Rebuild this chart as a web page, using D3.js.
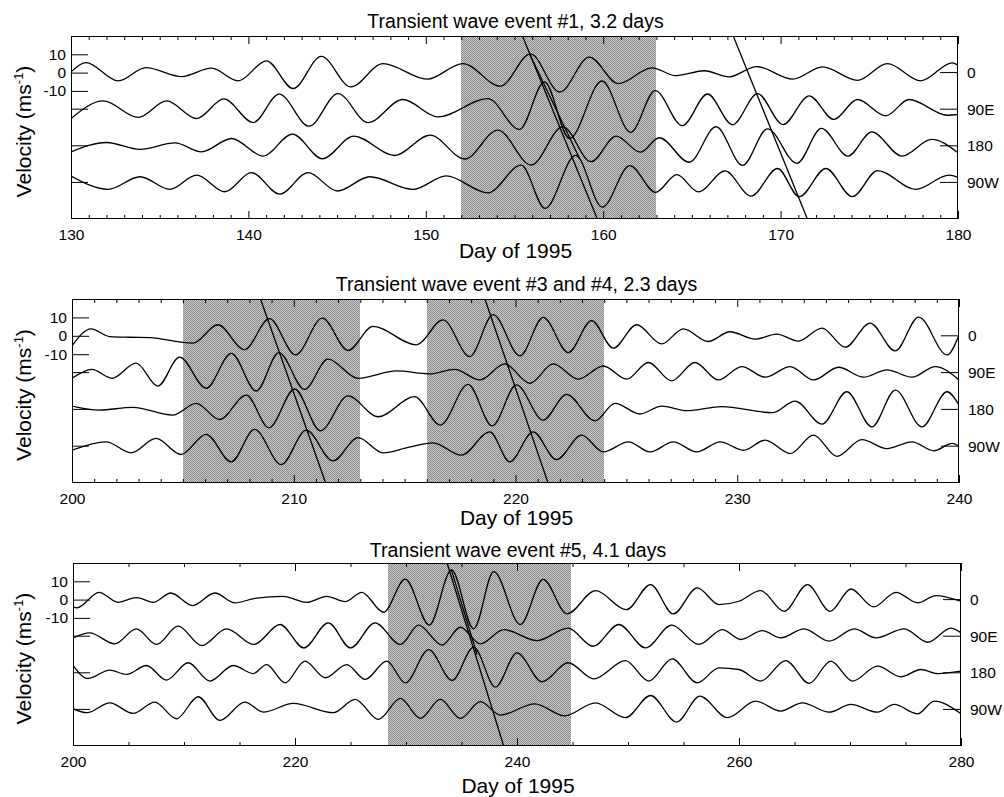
<!DOCTYPE html>
<html><head><meta charset="utf-8">
<script src="https://cdn.jsdelivr.net/npm/d3@7"></script>
<style>
html,body{margin:0;padding:0;background:#fff;}
svg{display:block;font-family:"Liberation Sans",Arial,Helvetica,sans-serif;}
</style></head><body>
<svg id="c" width="1004" height="797"></svg>
<script>
// ---------- data ----------
const traceLabels = ["0", "90E", "180", "90W"];
const traceOffsets = [0, -20, -40, -60];
const yTickValues = [10, 0, -10];

const titles = ["Transient wave event #1, 3.2 days", "Transient wave event #3 and #4, 2.3 days", "Transient wave event #5, 4.1 days"];
const xLabel = "Day of 1995";
const xDomains = [[130, 180], [200, 240], [200, 280]];
const majorTicks = [[130, 140, 150, 160, 170, 180], [200, 210, 220, 230, 240], [200, 220, 240, 260, 280]];
const minorStep = [1, 1, 5];

const shades1 = [[152, 163]];
const shades2 = [[205, 213], [216, 224]];
const shades3 = [[228.4, 244.9]];

// fit lines: [day0, v0, day1, v1]
const fits1 = [[155.45, 20, 159.67, -80], [155.84, 10.4, 158.66, -46.8], [167.33, 20, 171.51, -80]];
const fits2 = [[208.5, 20, 211.44, -80], [218.62, 20, 221.47, -80]];
const fits3 = [[233.7, 20, 238.8, -80], [234.08, 16.4, 236.4, -30]];

// traces: [day, velocity m/s] (extrema)
const p1_0 = [[130,0.4],[130.84,5.5],[132.67,-4.5],[134.22,2.7],[136.23,-2.2],[137.92,2.4],[139.42,-4.5],[141.02,6.4],[142.52,-8.7],[144.11,8.9],[145.77,-7.8],[147.59,4.9],[150.08,-3.6],[152.09,4.9],[154.2,-7.4],[155.9,10.2],[157.55,-10.6],[159.22,8.5],[160.85,-6.0],[162.75,2.6],[164.1,-1.7],[165.7,1.0],[167.1,-2.3],[168.65,3.3],[170.68,-3.6],[172.37,3.1],[174.33,-4.2],[176.02,4.9],[177.9,-4.5],[179.68,5.3],[180,4.0]];
const p1_90E = [[130,-5.1],[131.82,4.5],[133.79,-4.5],[135.39,4.5],[137.08,-5.1],[138.62,5.6],[140.27,-7.3],[141.73,8.2],[143.42,-9.3],[145.05,8.5],[146.74,-7.3],[148.71,5.3],[150.68,-4.2],[153.5,5.8],[155.28,-11.1],[156.69,14.9],[158.1,-16],[159.93,15.4],[161.55,-12.6],[162.93,10.2],[164.46,-9],[165.88,8.3],[167.29,-8.5],[168.7,8.5],[170.14,-8.4],[171.61,7.3],[173.0,-5.6],[174.33,5.3],[175.93,-3.6],[177.24,5.3],[179.4,-3.3],[180,-2.9]];
const p1_180 = [[130,-3.3],[132.0,1.8],[133.89,-2.0],[135.86,1.6],[137.36,-3.3],[139.05,4.0],[140.83,-5.6],[142.48,6.4],[144.17,-7.1],[145.93,5.3],[148.24,-5.3],[150.25,5.8],[152.2,-7.2],[154.06,8.6],[155.94,-10.5],[157.72,10.4],[159.32,-8.7],[160.73,5.3],[162.1,-3.5],[163.16,4.4],[164.85,-9],[166.36,10.4],[167.86,-10.7],[169.26,9.3],[170.92,-9.6],[172.3,9.5],[173.8,-5.6],[175.14,7.6],[176.84,-5.6],[178.52,3.5],[180,-3.8]];
const p1_90W = [[130,3.5],[132.1,-3.8],[133.89,3.1],[135.57,-3.8],[137.08,4.0],[138.67,-5.1],[140.17,5.3],[141.77,-6.4],[143.36,5.3],[145.02,-4.7],[146.84,3.1],[149.28,-3.8],[151.15,3.6],[153.5,-5.7],[155.38,9.4],[156.72,-14.2],[158.45,14.8],[159.95,-13.5],[161.5,9.2],[162.95,-5.4],[164.15,4.2],[165.37,-5.2],[166.87,6.3],[168.33,-7.5],[169.83,7.6],[171.05,-7.8],[172.55,7.6],[174.05,-7.8],[175.46,6.4],[177.62,-3.8],[179.5,4.0],[180,2.7]];

const p2_0 = [[200,-5.5],[200.86,3.8],[201.7,-0.4],[202.6,-0.8],[203.5,-1.0],[205.45,-4.0],[206.58,6.0],[207.78,-7.6],[208.9,9.3],[210.08,-10.4],[211.29,9.6],[212.45,-8.0],[213.57,5.1],[215.53,-4.9],[216.73,8.7],[217.94,-11.3],[218.99,11.5],[220.2,-10.9],[221.25,10],[222.38,-9.1],[223.43,8.2],[224.41,-6.7],[225.46,6.0],[226.59,-4.4],[227.57,3.8],[228.69,-3.1],[229.67,2.2],[230.8,-1.8],[231.78,0.9],[232.76,-2.9],[233.82,4.2],[234.87,-6.2],[235.99,6.9],[237.12,-8.2],[238.18,10.2],[239.46,-10.4],[240,0.5]];
const p2_90E = [[200,-3.1],[200.9,1.8],[201.8,-3.1],[202.89,5.1],[203.87,-7.3],[204.85,8.4],[206.05,-8.5],[207.18,10.5],[208.31,-10],[209.33,10.9],[210.49,-9.1],[211.54,7.3],[212.9,-3.1],[214.63,0.9],[216.13,-0.7],[217.26,1.8],[218.39,-4.0],[219.52,4.7],[220.65,-5.8],[221.7,4.7],[222.83,-3.6],[223.96,3.6],[225.01,-3.6],[225.99,5.5],[227.04,-4.5],[228.09,5.5],[229.15,-4.0],[230.2,3.3],[231.26,-2.5],[232.39,3.3],[233.44,-4.0],[234.57,2.9],[235.7,-2.5],[236.75,1.5],[237.88,-2.5],[238.93,3.3],[240,-4.0]];
const p2_180 = [[200,1.8],[201.23,-0.4],[202.74,1.1],[204.54,-3.1],[205.6,3.3],[206.65,-5.5],[207.86,7.8],[208.88,-10],[210.04,11.1],[211.2,-11.6],[212.45,7.3],[213.8,-4.0],[215.45,6.9],[216.61,-8.5],[217.86,13.6],[218.95,-9],[220.04,13.3],[221.25,-5.8],[222.3,8.2],[223.58,-6.2],[224.49,3.3],[225.61,-2.5],[226.59,1.8],[227.72,-0.7],[229.3,1.5],[231.58,-1.8],[232.61,4.5],[233.82,-8],[234.94,9.6],[236.07,-9.5],[237.13,10.5],[238.33,-9.5],[239.46,9.6],[240,2.4]];
const p2_90W = [[200,-2.2],[201.54,2.4],[202.66,-3.6],[203.79,4.2],[204.92,-4.5],[206.05,6.4],[207.18,-8.5],[208.23,9.1],[209.44,-10],[210.56,8.7],[211.77,-8],[212.9,4.7],[214.03,-3.6],[215.2,-0.5],[216.28,1.8],[217.56,-4.9],[218.84,7.8],[219.74,-8.5],[220.79,7.8],[221.85,-7.3],[222.98,6.0],[223.96,-3.1],[225.09,2.4],[226.07,-3.1],[227.12,2.4],[228.17,-3.1],[229.23,2.4],[230.28,-2.2],[231.26,3.3],[232.39,-4.0],[233.44,6.0],[234.49,-5.5],[235.62,3.6],[236.75,-1.3],[237.88,2.4],[238.86,-2.5],[239.7,1.5],[240,0]];

const p3_0 = [[200,-4.0],[200.36,-4.5],[202.35,4.0],[204.06,-1.5],[205.71,1.1],[207.22,-1.5],[208.81,3.6],[210.77,-3.3],[212.78,3.6],[214.59,-1.8],[216.39,0.7],[218.95,1.8],[221.05,-1.5],[222.86,1.8],[224.51,-1.1],[226.02,4.0],[227.97,-6.9],[229.93,11.2],[232.1,-13.9],[234.1,16.2],[236.1,-16],[237.9,15.3],[240.3,-13.6],[242.35,11.1],[244.5,-7.8],[247.07,4.9],[249.86,-5.5],[252.03,8.2],[254.08,-7.8],[256.24,6.4],[258.2,-2.7],[260.0,-0.9],[261.95,4.9],[264.06,-6.4],[266.17,8.2],[268.21,-6.4],[270.08,5.8],[272.12,-4.0],[274.14,4.0],[276.09,-1.8],[277.74,2.2],[280,-0.9]];
const p3_90E = [[200,-0.9],[201.5,1.8],[203.76,-4.2],[205.71,4.0],[207.52,-4.5],[209.47,5.5],[211.6,-5.1],[213.83,4.0],[216.3,-4.5],[218.65,6.4],[220.8,-6.4],[223.0,7.3],[225.0,-6.4],[227.22,7.3],[229.49,-4.5],[231.14,6.0],[233.25,-4.9],[234.9,4.9],[236.7,-4.2],[238.8,3.6],[241.81,-2.4],[244.6,4.4],[246.86,-5.5],[249.17,6.4],[251.58,-6.4],[253.93,6.0],[256.39,-4.5],[258.5,3.6],[260.15,-1.8],[262.11,3.1],[263.76,-0.9],[265.86,4.0],[268.12,-2.7],[270.38,4.0],[272.33,-0.9],[274.89,4.0],[277.0,-3.3],[279.1,4.4],[280,1.8]];
const p3_180 = [[200,4.0],[201.35,-3.1],[203.31,1.5],[204.81,-0.9],[206.62,4.0],[208.42,-4.0],[210.38,5.5],[212.33,-4.5],[214.44,4.0],[216.24,-0.4],[217.44,4.5],[219.1,-5.5],[220.9,6.4],[222.71,-2.7],[224.66,4.5],[226.32,-3.6],[228.27,6.4],[229.94,-5.5],[232.04,12.7],[234.15,-4.2],[236.1,14.0],[238.05,-7.8],[240.0,10.9],[242.26,-4.9],[244.6,5.5],[246.92,-3.3],[249.77,6.7],[251.88,-4.5],[253.98,7.6],[256.24,-5.5],[258.2,2.7],[260,1.8],[261.95,-4.5],[264.21,6.7],[266.32,-5.8],[268.27,6.4],[270.23,-4.5],[272.48,3.6],[274.59,-2.2],[276.39,1.8],[277.89,-0.4],[280,0.9]];
const p3_90W = [[200,0.4],[201.26,-1.8],[203.31,3.6],[205.41,-2.2],[207.37,4.0],[209.32,-5.1],[211.28,6.9],[213.23,-6.0],[215.49,4.0],[217.14,-1.5],[219.85,3.3],[223.46,-1.8],[225.41,5.5],[227.52,-5.5],[229.49,6.0],[231.29,-4.9],[233.09,5.5],[234.9,-4.9],[236.7,4.2],[238.5,-3.1],[241.6,3.0],[244.3,-3.5],[247.07,3.6],[249.77,-4.5],[252.03,7.6],[254.38,-6.9],[256.48,7.3],[258.95,-4.5],[261.5,4.5],[263.76,-0.9],[265.71,3.6],[268.12,-1.5],[270.08,2.7],[272.48,-1.5],[273.98,2.7],[276.09,-2.4],[277.59,4.5],[280,-2.4]];

// ---------- layout ----------
const panels = [
  {frame:{l:71,r:958,t:36,b:219}, traces:[p1_0,p1_90E,p1_180,p1_90W], shades:shades1, fits:fits1, titleY:28, labelY:258},
  {frame:{l:72,r:959,t:299,b:483}, traces:[p2_0,p2_90E,p2_180,p2_90W], shades:shades2, fits:fits2, titleY:291, labelY:525},
  {frame:{l:73,r:961,t:563,b:746}, traces:[p3_0,p3_90E,p3_180,p3_90W], shades:shades3, fits:fits3, titleY:557, labelY:793}
];

const svg = d3.select("#c");
const defs = svg.append("defs");
const pat = defs.append("pattern").attr("id","stip").attr("width",2).attr("height",2).attr("patternUnits","userSpaceOnUse");
pat.append("rect").attr("width",2).attr("height",2).attr("fill","#c9c9c9").attr("shape-rendering","crispEdges");
pat.append("rect").attr("x",0).attr("y",0).attr("width",1).attr("height",1).attr("fill","#8a8a8a").attr("shape-rendering","crispEdges");
pat.append("rect").attr("x",1).attr("y",1).attr("width",1).attr("height",1).attr("fill","#8a8a8a").attr("shape-rendering","crispEdges");

const TICK_FS = 15.5;

panels.forEach((p, i) => {
  const f = p.frame;
  const x = d3.scaleLinear().domain(xDomains[i]).range([f.l, f.r]);
  const y = d3.scaleLinear().domain([-80, 20]).range([f.b, f.t]);
  const g = svg.append("g");

  defs.append("clipPath").attr("id", "clip" + i).append("rect")
    .attr("x", f.l).attr("y", f.t).attr("width", f.r - f.l).attr("height", f.b - f.t);

  // shading
  g.selectAll("rect.sh").data(p.shades).join("rect").attr("class","sh")
    .attr("x", d => Math.round(x(d[0]))).attr("width", d => Math.round(x(d[1]) - x(d[0])))
    .attr("y", f.t).attr("height", f.b - f.t).attr("fill", "url(#stip)").attr("shape-rendering","crispEdges");

  const plot = g.append("g").attr("clip-path", `url(#clip${i})`);

  // traces
  p.traces.forEach((tr, k) => {
    const off = traceOffsets[k];
    const line = d3.line().x(d => x(d[0])).y(d => y(d[1] + off)).curve(d3.curveMonotoneX);
    plot.append("path").datum(tr).attr("d", line)
      .attr("fill", "none").attr("stroke", "#000").attr("stroke-width", 1.3);
  });

  // fit lines
  plot.selectAll("line.fit").data(p.fits).join("line").attr("class","fit")
    .attr("x1", d => x(d[0])).attr("y1", d => y(d[1]))
    .attr("x2", d => x(d[2])).attr("y2", d => y(d[3]))
    .attr("stroke", "#000").attr("stroke-width", 1.3);

  // minor/major ticks
  const minors = d3.range(xDomains[i][0], xDomains[i][1] + 0.001, minorStep[i]).filter(v => majorTicks[i].indexOf(v) < 0);
  const styleAxis = sel => {
    sel.select(".domain").remove();
    sel.selectAll("line").attr("stroke", "#000");
    sel.selectAll("text").attr("fill", "#000").attr("font-size", TICK_FS).attr("font-family", "Liberation Sans, Arial, sans-serif");
    sel.attr("font-size", null).attr("font-family", null);
  };
  g.append("g").attr("transform", `translate(0,${f.b})`)
    .call(d3.axisBottom(x).tickValues(majorTicks[i]).tickSize(-8).tickPadding(10).tickFormat(d => String(d))).call(styleAxis);
  g.append("g").attr("transform", `translate(0,${f.b})`)
    .call(d3.axisBottom(x).tickValues(minors).tickSize(-4).tickFormat("")).call(styleAxis);
  g.append("g").attr("transform", `translate(0,${f.t})`)
    .call(d3.axisTop(x).tickValues(majorTicks[i]).tickSize(-8).tickFormat("")).call(styleAxis);
  g.append("g").attr("transform", `translate(0,${f.t})`)
    .call(d3.axisTop(x).tickValues(minors).tickSize(-4).tickFormat("")).call(styleAxis);

  // y ticks (velocity scale of first trace)
  g.append("g").attr("transform", `translate(${f.l},0)`)
    .call(d3.axisLeft(y).tickValues(yTickValues).tickSize(-17).tickPadding(5).tickFormat(d => String(d))).call(styleAxis);

  // zero markers of other traces (left) and all traces (right)
  g.selectAll("line.zl").data(traceOffsets.slice(1)).join("line").attr("class","zl")
    .attr("x1", f.l).attr("x2", f.l + 17).attr("y1", d => y(d)).attr("y2", d => y(d)).attr("stroke", "#000");
  g.selectAll("line.zr").data(traceOffsets).join("line").attr("class","zr")
    .attr("x1", f.r - 18).attr("x2", f.r).attr("y1", d => y(d)).attr("y2", d => y(d)).attr("stroke", "#000");
  g.selectAll("text.rl").data(traceLabels).join("text").attr("class","rl")
    .attr("x", f.r + 9).attr("y", (d, k) => y(traceOffsets[k]))
    .attr("dy", "0.36em").attr("font-size", TICK_FS).text(d => d);

  // frame
  g.append("rect").attr("x", f.l + 0.5).attr("y", f.t + 0.5).attr("width", f.r - f.l - 1).attr("height", f.b - f.t - 1)
    .attr("fill", "none").attr("stroke", "#000").attr("stroke-width", 1);

  // title & labels
  const cx = (f.l + f.r) / 2;
  g.append("text").attr("x", cx + 1).attr("y", p.titleY).attr("text-anchor", "middle").attr("font-size", 19.5).text(titles[i]);
  g.append("text").attr("x", cx + 1).attr("y", p.labelY).attr("text-anchor", "middle").attr("font-size", 21).text(xLabel);
  const yl = g.append("text").attr("transform", `translate(31,${(f.t + f.b) / 2 + 4}) rotate(-90)`)
    .attr("text-anchor", "middle").attr("font-size", 21);
  yl.append("tspan").text("Velocity (ms");
  yl.append("tspan").attr("font-size", 13).attr("dy", -8).text("-1");
  yl.append("tspan").attr("dy", 8).text(")");
});
</script>
</body></html>
